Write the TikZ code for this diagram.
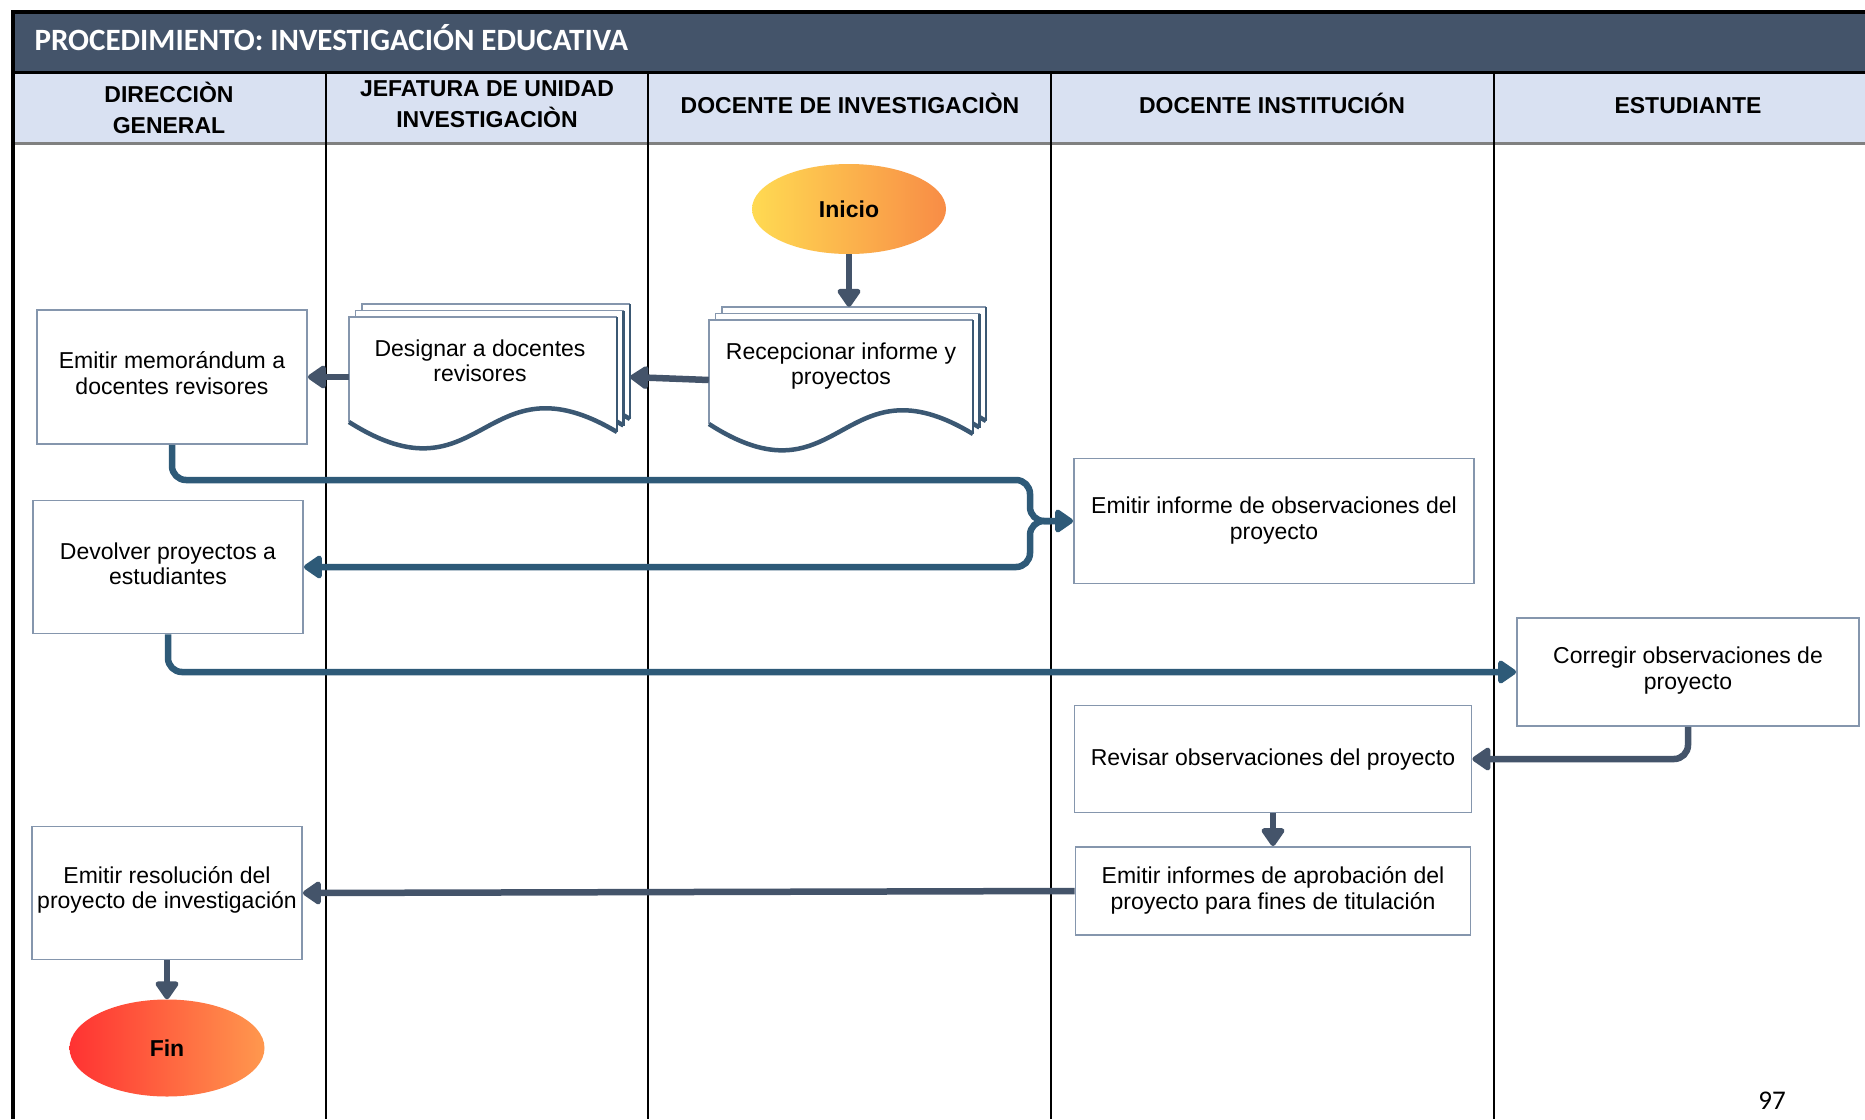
\documentclass[tikz,border=0pt]{standalone}
\usepackage{fontspec}
\setmainfont{Liberation Sans}
\newfontfamily\titlefont{Carlito}
\usetikzlibrary{arrows.meta,shapes.geometric}

\definecolor{band}{HTML}{44546A}
\definecolor{headfill}{HTML}{D9E1F2}
\definecolor{slate}{HTML}{44546A}
\definecolor{flowteal}{HTML}{2E5A78}
\definecolor{boxline}{HTML}{8596AD}
\definecolor{wavecol}{HTML}{3B5873}

% stacked document symbol: #1 left, #2 top, #3 width, #4 height of the straight sides
\newcommand\docpages[4]{%
  \foreach \k in {2,1,0}{%
    \begin{scope}[shift={(6.5*\k,-6.5*\k)}]
      \fill[white] (#1,#2+#4) -- (#1,#2) -- (#1+#3,#2) -- (#1+#3,#2+#4+10)
        .. controls (#1+0.5*#3,#2+#4-70) and (#1+0.5*#3,#2+#4+85) .. (#1,#2+#4) -- cycle;
      \draw[boxline, line width=1.6pt] (#1,#2+#4) -- (#1,#2) -- (#1+#3,#2);
      \draw[wavecol, line width=2.6pt] (#1+#3,#2) -- (#1+#3,#2+#4+10);
      \draw[wavecol, line width=4.5pt] (#1,#2+#4)
        .. controls (#1+0.5*#3,#2+#4+85) and (#1+0.5*#3,#2+#4-70) .. (#1+#3,#2+#4+10);
    \end{scope}}%
}

\begin{document}
\begin{tikzpicture}[x=1pt,y=-1pt,
  every node/.style={font=\fontsize{23}{25.5}\selectfont},
  task/.style 2 args={rectangle, draw=boxline, line width=1.8pt, fill=white, inner sep=0pt,
    label={[align=center, yshift=#2]center:#1}},
  docarea/.style={rectangle, inner sep=0pt, minimum width=#1, minimum height=120pt},
  lanehead/.style={font=\bfseries\fontsize{23}{31}\selectfont, align=center},
  terminal/.style={ellipse, inner sep=0pt, font=\bfseries\fontsize{23}{26}\selectfont},
  flow/.style={draw=slate, line width=6.5pt, rounded corners=14pt,
    -{Triangle[width=26pt,length=20pt,round]}},
  flowlong/.style={flow, draw=flowteal}
]
\useasboundingbox (0,0) rectangle (1865,1119);
\clip (0,0) rectangle (1865,1119);
\fill[white] (0,0) rectangle (1865,1119);

% title band and lane header row
\fill[band] (13,12) rectangle (1865,72);
\fill[headfill] (13,72) rectangle (1865,143);
\draw[line width=4pt] (11,12) -- (1865,12);
\draw[line width=3pt] (13,72) -- (1865,72);
\draw[line width=3pt, gray] (13,143) -- (1865,143);
\foreach \x in {326,648,1051,1494} \draw[line width=1.8pt] (\x,72) -- (\x,1119);
\draw[line width=4pt] (13,10) -- (13,1119);

\node[anchor=west, text=white, font=\titlefont\bfseries\fontsize{31}{36}\selectfont]
  (title) at (31,37.6) {PROCEDIMIENTO: INVESTIGACIÓN EDUCATIVA};

\node[lanehead] (h1) at (169,108) {DIRECCIÒN\\GENERAL};
\node[lanehead] (h2) at (487,104) {JEFATURA DE UNIDAD\\INVESTIGACIÒN};
\node[lanehead, anchor=base] (h3) at (850,113) {DOCENTE DE INVESTIGACIÒN};
\node[lanehead, anchor=base] (h4) at (1272,113) {DOCENTE INSTITUCIÓN};
\node[lanehead, anchor=base] (h5) at (1688,113) {ESTUDIANTE};

% document stacks
\docpages{349}{317}{268}{105}
\docpages{709}{320}{264}{104}
\node[docarea=268pt] (desig) at (483,377) {};
\node[docarea=264pt] (recep) at (841,380) {};
\node[align=center] (desigtext) at (480,361) {Designar a docentes\\revisores};
\node[align=center] (receptext) at (841,366) {Recepcionar informe y\\proyectos};

% process boxes
\node[task={Emitir memorándum a\\docentes revisores}{4pt},
  minimum width=270pt, minimum height=134pt] (memo) at (172,377) {};
\node[task={Emitir informe de observaciones del\\proyecto}{0.5pt},
  minimum width=400pt, minimum height=125pt] (informe) at (1274,521) {};
\node[task={Devolver proyectos a\\estudiantes}{3pt},
  minimum width=270pt, minimum height=133pt] (devolver) at (168,567) {};
\node[task={Corregir observaciones de\\proyecto}{1.6pt},
  minimum width=342pt, minimum height=108pt] (corregir) at (1688,672) {};
\node[task={Revisar observaciones del proyecto}{-1pt},
  minimum width=397pt, minimum height=107pt] (revisar) at (1273,759) {};
\node[task={Emitir informes de aprobación del\\proyecto para fines de titulación}{0.5pt},
  minimum width=395pt, minimum height=88pt] (aprob) at (1273,891) {};
\node[task={Emitir resolución del\\proyecto de investigación}{3pt},
  minimum width=270pt, minimum height=133pt] (resol) at (167,893) {};

% start and end
\node[terminal, minimum width=194pt, minimum height=90pt,
  left color={rgb,255:red,255;green,218;blue,82}, right color={rgb,255:red,248;green,140;blue,70}]
  (inicio) at (849,209) {Inicio};
\node[terminal, minimum width=195pt, minimum height=97pt,
  left color={rgb,255:red,255;green,50;blue,50}, right color={rgb,255:red,255;green,152;blue,78}]
  (fin) at (167,1048) {Fin};

\node[font=\titlefont\fontsize{27}{30}\selectfont] (page) at (1772,1101) {97};

% connectors
\draw[flow] (inicio.south) -- ([xshift=8pt,yshift=13pt]recep.north);
\draw[flow] (recep.west) -- ([xshift=13pt]desig.east);
\draw[flow] (desig.west) -- (memo.east);
\draw[flowlong] ([xshift=-22pt]informe.west) -| (1030,567) -- (devolver.east);
\draw[flowlong] (memo.south) |- (1030,480) |- (informe.west);
\draw[flowlong] (devolver.south) |- (corregir.west);
\draw[flow] (corregir.south) |- (revisar.east);
\draw[flow] (revisar.south) -- (aprob.north);
\draw[flow] (aprob.west) -- (resol.east);
\draw[flow] (resol.south) -- (fin.north);
\end{tikzpicture}
\end{document}
